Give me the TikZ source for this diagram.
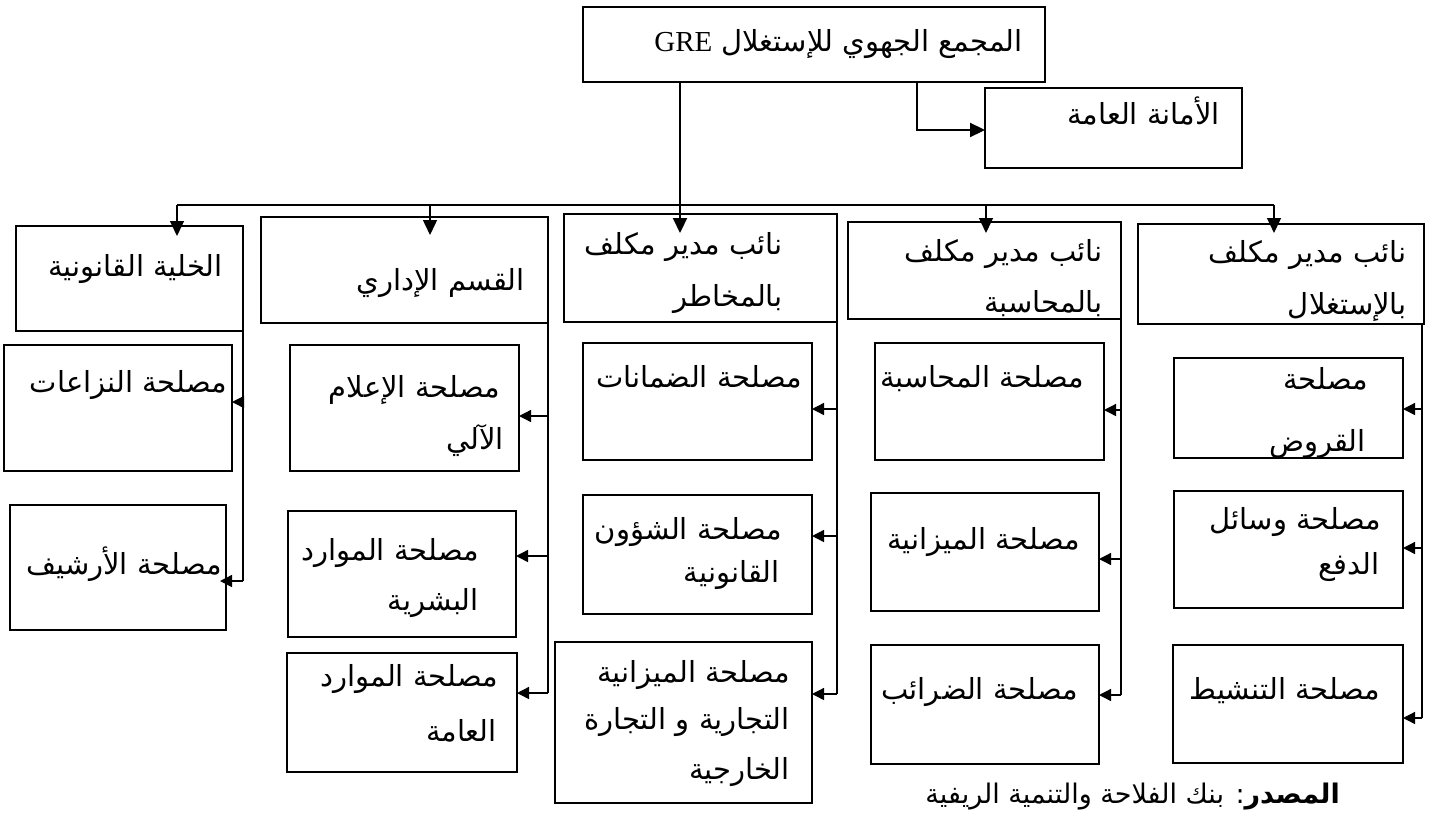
\documentclass[tikz,border=0pt]{standalone}
\usepackage{fontspec}
\usetikzlibrary{arrows.meta}
\newfontfamily\arabicfont[Script=Arabic]{DejaVu Sans}
\newfontfamily\latinfont{Liberation Serif}
\TeXXeTstate=1
% box given by its corners: name, x1, y1, x2, y2
\newcommand\orgbox[5]{\node[box, minimum width={#4-#2}, minimum height={#5-#3}] (#1) at ({(#2+#4)/2},{(#3+#5)/2}) {};}
% right-aligned label: name, right x, middle y, text
\newcommand\lbl[4]{\node[txt] (#1) at (#2,#3) {#4};}
\begin{document}
\begin{tikzpicture}[x=1pt,y=-1pt,
  box/.style={draw, line width=1.5pt, inner sep=0pt, outer sep=0pt},
  txt/.style={anchor=east, inner sep=0pt, yshift=-7pt, font=\arabicfont\fontsize{29}{34}\selectfont, text height=0.72em, text depth=0.28em},
  conn/.style={line width=1.4pt},
  darr/.style={conn, -{Triangle[length=15pt,width=14pt]}},
  larr/.style={conn, -{Triangle[length=12pt,width=12pt]}}]
\useasboundingbox (0,0) rectangle (1429,814);

% head office and general secretariat
\orgbox{top}{583}{7}{1045}{82}
\orgbox{sec}{985}{88}{1242}{168}
\node[txt, font=\arabicfont\fontsize{29}{34}\selectfont] (topt) at (1023,42) {\beginR المجمع الجهوي للإستغلال \beginL{\latinfont GRE}\endL\endR};
\lbl{sect}{1220}{115}{\beginR الأمانة العامة\endR}

% departments
\orgbox{h1}{16}{226}{243}{331}
\orgbox{h2}{261}{217}{548}{323}
\orgbox{h3}{564}{214}{837}{322}
\orgbox{h4}{848}{222}{1121}{319}
\orgbox{h5}{1138}{224}{1424}{324}
\lbl{h1t}{223}{267}{\beginR الخلية القانونية\endR}
\lbl{h2t}{525}{281}{\beginR القسم الإداري\endR}
\lbl{h3a}{783}{245}{\beginR نائب مدير مكلف\endR}
\lbl{h3b}{783}{297}{\beginR بالمخاطر\endR}
\lbl{h4a}{1103}{252}{\beginR نائب مدير مكلف\endR}
\lbl{h4b}{1103}{303}{\beginR بالمحاسبة\endR}
\lbl{h5a}{1407}{253}{\beginR نائب مدير مكلف\endR}
\lbl{h5b}{1407}{305}{\beginR بالإستغلال\endR}

% services
\orgbox{l1}{4}{345}{232}{471}
\orgbox{l2}{10}{505}{226}{630}
\orgbox{a1}{290}{345}{519}{471}
\orgbox{a2}{288}{511}{516}{637}
\orgbox{a3}{287}{653}{517}{772}
\orgbox{r1}{583}{343}{812}{460}
\orgbox{r2}{583}{495}{812}{614}
\orgbox{r3}{555}{642}{812}{803}
\orgbox{c1}{875}{343}{1104}{460}
\orgbox{c2}{871}{493}{1099}{611}
\orgbox{c3}{871}{645}{1099}{764}
\orgbox{e1}{1174}{358}{1403}{458}
\orgbox{e2}{1174}{491}{1403}{608}
\orgbox{e3}{1173}{645}{1403}{763}

\lbl{l1t}{227}{383}{\beginR مصلحة النزاعات\endR}
\lbl{l2t}{222}{565}{\beginR مصلحة الأرشيف\endR}
\lbl{a1a}{500}{388}{\beginR مصلحة الإعلام\endR}
\lbl{a1b}{504}{440}{\beginR الآلي\endR}
\lbl{a2a}{479}{551}{\beginR مصلحة الموارد\endR}
\lbl{a2b}{479}{601}{\beginR البشرية\endR}
\lbl{a3a}{498}{677}{\beginR مصلحة الموارد\endR}
\lbl{a3b}{497}{732}{\beginR العامة\endR}
\lbl{r1t}{802}{378}{\beginR مصلحة الضمانات\endR}
\lbl{r2a}{782}{530}{\beginR مصلحة الشؤون\endR}
\lbl{r2b}{780}{573}{\beginR القانونية\endR}
\lbl{r3a}{790}{673}{\beginR مصلحة الميزانية\endR}
\lbl{r3b}{790}{720}{\beginR التجارية و التجارة\endR}
\lbl{r3c}{790}{770}{\beginR الخارجية\endR}
\lbl{c1t}{1084}{378}{\beginR مصلحة المحاسبة\endR}
\lbl{c2t}{1080}{540}{\beginR مصلحة الميزانية\endR}
\lbl{c3t}{1078}{690}{\beginR مصلحة الضرائب\endR}
\lbl{e1a}{1368}{380}{\beginR مصلحة\endR}
\lbl{e1b}{1366}{442}{\beginR القروض\endR}
\lbl{e2a}{1381}{520}{\beginR مصلحة وسائل\endR}
\lbl{e2b}{1380}{565}{\beginR الدفع\endR}
\lbl{e3t}{1380}{690}{\beginR مصلحة التنشيط\endR}

% source line
\node[txt, yshift=3pt, font=\arabicfont\fontsize{27}{32}\selectfont] (src) at (1340,797) {\beginR\textbf{المصدر}: بنك الفلاحة والتنمية الريفية\endR};

% head office to secretariat
\coordinate (s0) at (847,82);
\coordinate (s1) at (917,130);
\draw[line width=2.2pt, -{Triangle[length=15pt,width=14pt]}] (s0) -- (top.south -| s1) -- (s1) -- (sec.west |- s1);

% distribution bar
\coordinate (d1) at (177,205);
\coordinate (d2) at (430,205);
\coordinate (d3) at (680,205);
\coordinate (d4) at (986,205);
\coordinate (d5) at (1274,205);
\draw[conn] (d1) -- (d5);
\draw[darr, line width=2.2pt] (top.south -| d3) -- (d3 |- 0,233);
\draw[darr] (d1) -- (d1 |- 0,236);
\draw[darr] (d2) -- (d2 |- 0,235);
\draw[darr] (d4) -- (d4 |- 0,233);
\draw[darr] (d5) -- (d5 |- 0,233);

% spines from each department to its services
\draw[conn] (h1.south east) -- (h1.east |- 0,581);
\draw[larr] (h1.east |- 0,402) -- (l1.east |- 0,402);
\draw[larr] (h1.east |- 0,581) -- ([xshift=-6pt]l2.east |- 0,581);

\draw[conn] (h2.south east) -- (h2.east |- 0,693);
\draw[larr] (h2.east |- 0,416) -- (a1.east |- 0,416);
\draw[larr] (h2.east |- 0,556) -- (a2.east |- 0,556);
\draw[larr] (h2.east |- 0,693) -- (a3.east |- 0,693);

\draw[conn] (h3.south east) -- (h3.east |- 0,694);
\draw[larr] (h3.east |- 0,409) -- (r1.east |- 0,409);
\draw[larr] (h3.east |- 0,536) -- (r2.east |- 0,536);
\draw[larr] (h3.east |- 0,694) -- (r3.east |- 0,694);

\draw[conn] (h4.south east) -- (h4.east |- 0,695);
\draw[larr] (h4.east |- 0,410) -- (c1.east |- 0,410);
\draw[larr] (h4.east |- 0,559) -- (c2.east |- 0,559);
\draw[larr] (h4.east |- 0,695) -- (c3.east |- 0,695);

\coordinate (sp5) at (1422,324);
\draw[conn] (sp5) -- (sp5 |- 0,718);
\draw[larr] (sp5 |- 0,409) -- (e1.east |- 0,409);
\draw[larr] (sp5 |- 0,548) -- (e2.east |- 0,548);
\draw[larr] (sp5 |- 0,718) -- (e3.east |- 0,718);
\end{tikzpicture}
\end{document}
